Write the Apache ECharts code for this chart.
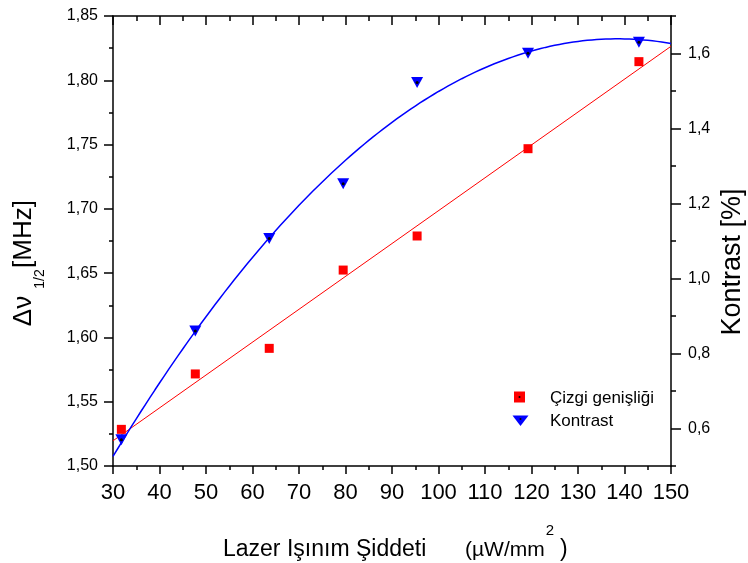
<!DOCTYPE html>
<html>
<head>
<meta charset="utf-8">
<script src="https://cdn.jsdelivr.net/npm/echarts@6/dist/echarts.min.js"></script>
<style>
  html, body { margin: 0; padding: 0; background: #fff; }
  #chart { width: 748px; height: 563px; }
</style>
</head>
<body>
<div id="chart"></div>
<script>
// Laser intensity (µW/mm²) for each measurement
const intensity = [31.8, 47.7, 63.6, 79.5, 95.4, 119.25, 143.1];
// Line width Δν1/2 in MHz (left axis)
const lineWidthMHz = [1.5285, 1.5716, 1.5915, 1.6524, 1.6789, 1.7468, 1.8145];
// Contrast in % (right axis)
const contrastPct = [0.570, 0.860, 1.107, 1.2525, 1.523, 1.601, 1.630];

const xTickRange = [30, 150, 10];
const leftTickRange = [1.50, 1.85, 0.05];
const rightMajorTicks = [0.6, 0.8, 1.0, 1.2, 1.4, 1.6];
const rightMinorTicks = [0.5, 0.7, 0.9, 1.1, 1.3, 1.5, 1.7];

const seriesNames = ['Çizgi genişliği', 'Kontrast'];

// least-squares polynomial fit of given degree
function polyFit(xs, ys, deg) {
  const n = deg + 1;
  const A = [];
  for (let i = 0; i < n; i++) {
    A.push(new Array(n + 1).fill(0));
  }
  for (let k = 0; k < xs.length; k++) {
    for (let i = 0; i < n; i++) {
      for (let j = 0; j < n; j++) A[i][j] += Math.pow(xs[k], i + j);
      A[i][n] += ys[k] * Math.pow(xs[k], i);
    }
  }
  for (let i = 0; i < n; i++) {
    let p = i;
    for (let r = i + 1; r < n; r++) {
      if (Math.abs(A[r][i]) > Math.abs(A[p][i])) p = r;
    }
    const tmp = A[i]; A[i] = A[p]; A[p] = tmp;
    for (let r = 0; r < n; r++) {
      if (r === i) continue;
      const f = A[r][i] / A[i][i];
      for (let c = i; c <= n; c++) A[r][c] -= f * A[i][c];
    }
  }
  return A.map((row, i) => row[n] / row[i]);
}
function evalPoly(c, x) {
  let s = 0;
  for (let i = 0; i < c.length; i++) s += c[i] * Math.pow(x, i);
  return s;
}

const linCoef = polyFit(intensity, lineWidthMHz, 1);
const quadCoef = polyFit(intensity, contrastPct, 2);
const fitLin = [xTickRange[0], xTickRange[1]].map(x => [x, evalPoly(linCoef, x)]);
const fitQuad = [];
for (let x = xTickRange[0]; x <= xTickRange[1]; x += 1) fitQuad.push([x, evalPoly(quadCoef, x)]);

const FONT = '"Liberation Sans", Arial, sans-serif';
const axisLine = { show: true, lineStyle: { color: '#000', width: 1.5 } };

const chart = echarts.init(document.getElementById('chart'), null, { renderer: 'canvas' });

chart.setOption({
  animation: false,
  backgroundColor: '#fff',
  grid: { left: 113, right: 77, top: 16, bottom: 97, containLabel: false },
  xAxis: [
    {
      type: 'value', position: 'bottom',
      min: xTickRange[0], max: xTickRange[1], interval: xTickRange[2],
      axisLine: axisLine,
      axisTick: { show: true, inside: false, length: 8, lineStyle: { color: '#000', width: 1.5 } },
      minorTick: { show: true, splitNumber: 2, length: 4, lineStyle: { color: '#000', width: 1.5 } },
      axisLabel: { color: '#000', fontSize: 22, fontFamily: FONT, margin: 16 },
      splitLine: { show: false }
    },
    {
      type: 'value', position: 'top',
      min: xTickRange[0], max: xTickRange[1], interval: xTickRange[2],
      axisLine: axisLine,
      axisTick: { show: true, inside: true, length: 9, lineStyle: { color: '#000', width: 1.5 } },
      minorTick: { show: true, splitNumber: 2, length: 5, lineStyle: { color: '#000', width: 1.5 } },
      axisLabel: { show: false },
      splitLine: { show: false }
    }
  ],
  yAxis: [
    {
      type: 'value', position: 'left',
      min: leftTickRange[0], max: leftTickRange[1], interval: leftTickRange[2],
      axisLine: axisLine,
      axisTick: { show: true, inside: false, length: 9, lineStyle: { color: '#000', width: 1.5 } },
      minorTick: { show: true, splitNumber: 2, length: 4, lineStyle: { color: '#000', width: 1.5 } },
      axisLabel: {
        color: '#000', fontSize: 16, fontFamily: FONT, margin: 15,
        formatter: v => v.toFixed(2).replace('.', ',')
      },
      splitLine: { show: false }
    },
    {
      type: 'value', position: 'right',
      min: 0.5, max: 1.7,
      axisLine: axisLine,
      axisTick: { show: true, inside: false, length: 10, customValues: rightMajorTicks, lineStyle: { color: '#000', width: 1.5 } },
      axisLabel: {
        color: '#000', fontSize: 16, fontFamily: FONT, margin: 17,
        customValues: rightMajorTicks,
        formatter: v => v.toFixed(1).replace('.', ',')
      },
      splitLine: { show: false }
    },
    {
      type: 'value', position: 'right',
      min: 0.5, max: 1.7,
      axisLine: { show: false },
      axisTick: { show: true, inside: false, length: 5, customValues: rightMinorTicks, lineStyle: { color: '#000', width: 1.5 } },
      axisLabel: { show: false },
      splitLine: { show: false }
    }
  ],
  series: [
    {
      name: 'fitLin', type: 'line', xAxisIndex: 0, yAxisIndex: 0,
      data: fitLin, showSymbol: false, symbol: 'none', silent: true,
      lineStyle: { color: '#ff0000', width: 1 }, z: 2
    },
    {
      name: 'fitQuad', type: 'line', xAxisIndex: 0, yAxisIndex: 1,
      data: fitQuad, showSymbol: false, symbol: 'none', silent: true,
      lineStyle: { color: '#0000ff', width: 1.5 }, z: 2
    },
    {
      name: seriesNames[0], type: 'scatter', xAxisIndex: 0, yAxisIndex: 0,
      data: intensity.map((x, i) => [x, lineWidthMHz[i]]),
      symbol: 'rect', symbolSize: 9,
      itemStyle: { color: '#ff0000', opacity: 1 }, z: 3
    },
    {
      name: seriesNames[1], type: 'scatter', xAxisIndex: 0, yAxisIndex: 1,
      data: intensity.map((x, i) => [x, contrastPct[i]]),
      symbol: 'triangle', symbolRotate: 180, symbolSize: [12, 11],
      itemStyle: { color: '#0000ff', opacity: 1 }, z: 3
    },
    {
      name: 'contrastDot', type: 'scatter', xAxisIndex: 0, yAxisIndex: 1,
      data: intensity.map((x, i) => [x, contrastPct[i]]),
      symbol: 'circle', symbolSize: 3, silent: true,
      itemStyle: { color: '#000', opacity: 1 }, z: 4
    }
  ],
  graphic: [
    // left axis title: Δν1/2 [MHz]
    { type: 'text', x: 24, y: 311, rotation: Math.PI / 2,
      style: { text: 'Δν', font: '26px ' + FONT, fill: '#000', align: 'center', verticalAlign: 'middle' } },
    { type: 'text', x: 40, y: 279, rotation: Math.PI / 2,
      style: { text: '1/2', font: '14px ' + FONT, fill: '#000', align: 'center', verticalAlign: 'middle' } },
    { type: 'text', x: 24, y: 234, rotation: Math.PI / 2,
      style: { text: '[MHz]', font: '26px ' + FONT, fill: '#000', align: 'center', verticalAlign: 'middle' } },
    // right axis title
    { type: 'text', x: 733, y: 262, rotation: Math.PI / 2,
      style: { text: 'Kontrast [%]', font: '27px ' + FONT, fill: '#000', align: 'center', verticalAlign: 'middle' } },
    // bottom axis title
    { type: 'text', x: 223, y: 550,
      style: { text: 'Lazer Işınım Şiddeti', font: '23px ' + FONT, fill: '#000', align: 'left', verticalAlign: 'middle' } },
    { type: 'text', x: 465, y: 550,
      style: { text: '(µW/mm', font: '21px ' + FONT, fill: '#000', align: 'left', verticalAlign: 'middle' } },
    { type: 'text', x: 550, y: 531,
      style: { text: '2', font: '15px ' + FONT, fill: '#000', align: 'center', verticalAlign: 'middle' } },
    { type: 'text', x: 560, y: 550,
      style: { text: ')', font: '23px ' + FONT, fill: '#000', align: 'left', verticalAlign: 'middle' } },
    // legend
    { type: 'rect', shape: { x: 514, y: 391.5, width: 11, height: 11 }, style: { fill: '#ff0000' } },
    { type: 'circle', shape: { cx: 519.5, cy: 397, r: 1 }, style: { fill: '#000' } },
    { type: 'polygon', shape: { points: [[512.5, 415.5], [528.5, 415.5], [520.5, 426]] }, style: { fill: '#0000ff' } },
    { type: 'circle', shape: { cx: 520.5, cy: 419, r: 1 }, style: { fill: '#000' } },
    { type: 'text', x: 550, y: 398,
      style: { text: seriesNames[0], font: '17px ' + FONT, fill: '#000', align: 'left', verticalAlign: 'middle' } },
    { type: 'text', x: 550, y: 421,
      style: { text: seriesNames[1], font: '17px ' + FONT, fill: '#000', align: 'left', verticalAlign: 'middle' } }
  ]
});
</script>
</body>
</html>
